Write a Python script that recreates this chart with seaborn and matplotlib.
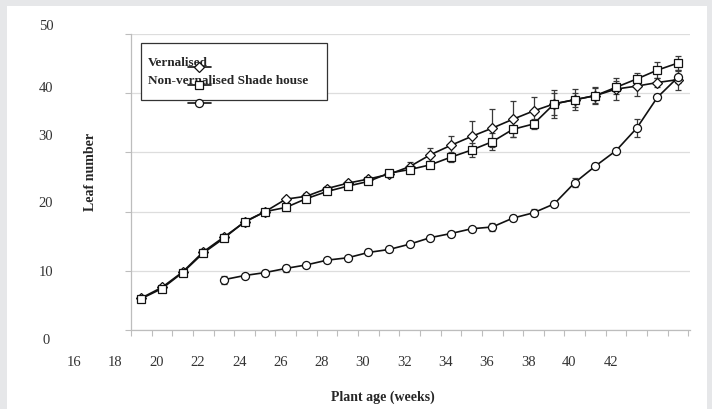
"""
Leaf number vs plant age for vernalised / non-vernalised plants.
"""
import numpy as np
import pandas as pd
import matplotlib.pyplot as plt
import seaborn as sns
from matplotlib.patches import Rectangle
from matplotlib.lines import Line2D

# one point per week
weeks = list(range(19, 46))
vernalised = [5.4, 7.2, 9.8, 13.2, 15.7, 18.2, 20.0, 22.1, 22.6, 23.9, 24.8, 25.5, 26.3, 27.6,
              29.6, 31.2, 32.7, 34.1, 35.6, 37.0, 38.2, 38.9, 39.6, 40.7, 41.2, 41.8, 42.3]
vernalised_err = [0.3, 0.4, 0.4, 0.5, 0.5, 0.5, 0.4, 0.4, 0.6, 0.5, 0.4, 0.4, 0.5, 0.7,
                  1.2, 1.5, 2.6, 3.2, 3.0, 2.4, 2.4, 1.8, 1.2, 1.8, 1.6, 0.8, 1.7]
shade_house = [5.3, 7.0, 9.7, 13.0, 15.5, 18.3, 20.0, 20.7, 22.2, 23.4, 24.3, 25.1, 26.5, 27.1,
               27.9, 29.2, 30.4, 31.8, 33.9, 34.8, 38.2, 38.9, 39.6, 41.0, 42.4, 43.9, 45.1]
shade_house_err = [0.3, 0.3, 0.4, 0.4, 0.4, 0.5, 0.4, 0.5, 0.4, 0.4, 0.4, 0.4, 0.5, 0.5,
                   0.6, 0.9, 1.2, 1.4, 1.35, 0.85, 1.8, 1.2, 1.5, 1.1, 1.0, 1.3, 1.2]
weeks_third = list(range(23, 46))
third = [8.5, 9.2, 9.7, 10.4, 11.0, 11.8, 12.2, 13.1, 13.6, 14.5, 15.6, 16.3, 17.1, 17.4,
         18.9, 19.8, 21.3, 24.9, 27.7, 30.3, 34.1, 39.3, 42.7]
third_err = [0.7, 0.3, 0.5, 0.6, 0.3, 0.3, 0.3, 0.5, 0.4, 0.3, 0.3, 0.5, 0.3, 0.6,
             0.5, 0.6, 0.5, 0.8, 0.5, 0.5, 1.5, 0.5, 1.0]

x_labels = [16, 18, 20, 22, 24, 26, 28, 30, 32, 34, 36, 38, 40, 42]
y_labels = ['0', '10', '20', '30', '40', '50']
legend_labels = ['Vernalised', 'Non-vernalised Shade house']

sns.set_style('white')
plt.rcParams['font.family'] = ['Liberation Serif', 'DejaVu Serif']

W, H = 712, 410
fig = plt.figure(figsize=(W / 100, H / 100), dpi=100, facecolor='#e6e7e9')
fig.patches.append(Rectangle((7 / W, 0), 700 / W, 403 / H, transform=fig.transFigure,
                             facecolor='white', edgecolor='none', zorder=-10))
ax = fig.add_axes([131 / W, 79 / H, 559 / W, 296 / H])

series = [
    (weeks, vernalised, vernalised_err, 'D', 5.2),
    (weeks_third, third, third_err, 'o', 5.8),
    (weeks, shade_house, shade_house_err, 's', 5.6),
]
for x, y, err, marker, ms in series:
    ax.errorbar(x, y, yerr=err, fmt='none', ecolor='#3a3a3a', elinewidth=0.9,
                capsize=2.5, capthick=0.9, zorder=2)
    df = pd.DataFrame({'week': x, 'leaves': y})
    sns.lineplot(data=df, x='week', y='leaves', ax=ax, color='#111111', linewidth=1.2,
                 marker=marker, markersize=ms, markerfacecolor='white',
                 markeredgecolor='#111111', markeredgewidth=0.9, legend=False, zorder=3)

ax.set_xlim(18.5, 45.58)
ax.set_ylim(0, 50)
ax.set_xlabel('')
ax.set_ylabel('')
ax.set_xticks(np.arange(18.5, 45.6, 1))
ax.set_xticklabels([])
ax.set_yticks(range(0, 51, 10))
ax.set_yticklabels([])
ax.yaxis.grid(True, color='#dddddd', linewidth=0.9)
ax.tick_params(axis='both', length=4, width=0.8, color='#bdbdbd', direction='out',
               left=True, bottom=True)
for s in ['top', 'right']:
    ax.spines[s].set_visible(False)
for s in ['left', 'bottom']:
    ax.spines[s].set_color('#bdbdbd')
    ax.spines[s].set_linewidth(0.9)

# tick labels sit offset from the ticks, as in the original figure
for w in x_labels:
    ax.text(w - 0.26, -0.105, str(w), transform=ax.get_xaxis_transform(),
            ha='center', va='center', fontsize=10.5, color='#333333', clip_on=False)
for lab, ypx in zip(y_labels, [341, 272, 204, 136, 88, 27]):
    fig.text(46 / W, 1 - ypx / H, lab, ha='center', va='center', fontsize=10.5,
             color='#333333')

fig.text(91 / W, 1 - 172 / H, 'Leaf number', rotation=90, ha='center', va='center',
         fontsize=10, fontweight='bold')
fig.text(383 / W, 1 - 397 / H, 'Plant age (weeks)', ha='center', va='center',
         fontsize=10, fontweight='bold')

# legend box
ax.add_patch(Rectangle((0.0179, 0.777), 0.3327, 0.1926, transform=ax.transAxes,
                       facecolor='white', edgecolor='#333333', linewidth=0.9,
                       zorder=4, clip_on=False))
ax.text(0.03, 0.906, legend_labels[0], transform=ax.transAxes, ha='left', va='center',
        fontsize=9.5, fontweight='bold', zorder=5)
ax.text(0.03, 0.845, legend_labels[1], transform=ax.transAxes, ha='left', va='center',
        fontsize=9.5, fontweight='bold', zorder=5)
for marker, ms, yk in [('D', 5, 0.8885), ('s', 5.6, 0.8277), ('o', 5.8, 0.7669)]:
    ax.add_line(Line2D([0.102, 0.143], [yk, yk], transform=ax.transAxes, color='#111111',
                       linewidth=1.2, zorder=6, clip_on=False))
    ax.add_line(Line2D([0.1225], [yk], transform=ax.transAxes, marker=marker,
                       markersize=ms, markerfacecolor='white', markeredgecolor='#111111',
                       markeredgewidth=0.9, linestyle='none', zorder=7, clip_on=False))

fig.savefig('out.png', dpi=100, facecolor=fig.get_facecolor())
